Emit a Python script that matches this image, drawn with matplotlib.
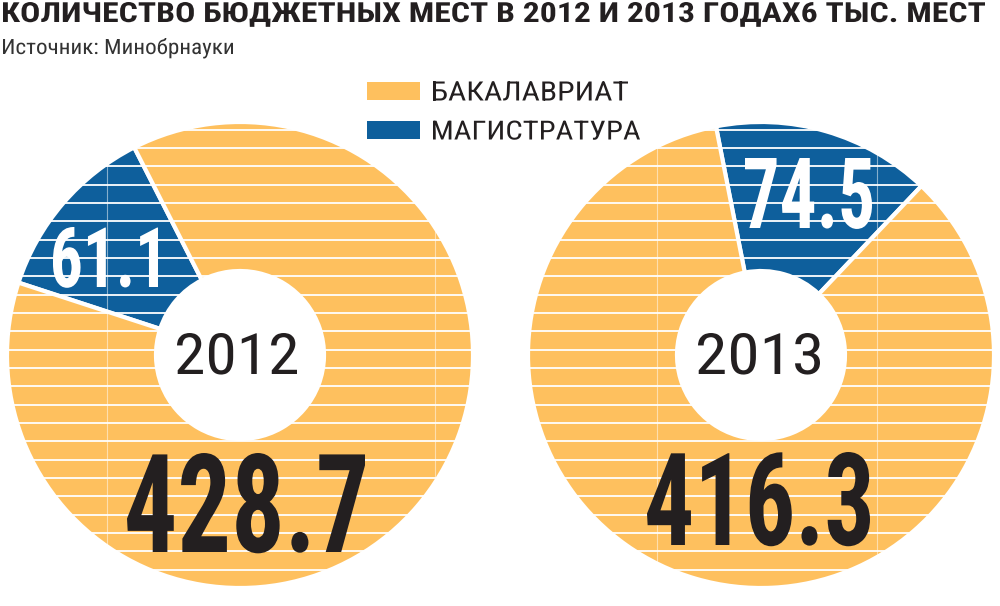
import numpy as np
import matplotlib
matplotlib.use('Agg')
import matplotlib.pyplot as plt
from matplotlib import font_manager
from matplotlib.font_manager import FontProperties
from matplotlib.patches import Circle, Rectangle
from matplotlib.patheffects import AbstractPathEffect
from matplotlib.textpath import TextPath
from matplotlib.transforms import Affine2D

# -------------------- Data --------------------

years = ['2012', '2013']
bachelor = [428.7, 416.3]      # БАКАЛАВРИАТ, тыс. мест
master = [61.1, 74.5]          # МАГИСТРАТУРА, тыс. мест
categories = ['БАКАЛАВРИАТ', 'МАГИСТРАТУРА']

title = 'КОЛИЧЕСТВО БЮДЖЕТНЫХ МЕСТ В 2012 И 2013 ГОДАХ6 ТЫС. МЕСТ'
source = 'Источник: Минобрнауки'

# -------------------- Style --------------------

YELLOW = '#FEC05E'
BLUE = '#0E5F9C'
DARK = '#231F20'

# look for a narrow face, the reference uses a condensed grotesque
FAMILY, STRETCH = 'DejaVu Sans', 'normal'
fonts = font_manager.fontManager.ttflist
by_name = {f.name for f in fonts}
for nm in ['Roboto Condensed', 'Liberation Sans Narrow', 'Open Sans Condensed',
           'Noto Sans Condensed', 'DejaVu Sans Condensed']:
    if nm in by_name:
        FAMILY = nm
        break
else:
    for nm in ['Roboto', 'Noto Sans', 'Open Sans', 'DejaVu Sans']:
        st = [f.stretch for f in fonts if f.name == nm]
        if any(s in ('condensed', 'semi-condensed', 'extra-condensed') or
               (isinstance(s, int) and s < 500) for s in st):
            FAMILY, STRETCH = nm, 'condensed'
            break
FAM = [FAMILY, 'DejaVu Sans']

W, H = 1000, 606
centers_x = [240, 761]      # pixel positions of pie centres
center_y = 355
R_OUT = 233
R_IN = 84
start_angles = [117, 46.5]


def Y(y_px):
    """Convert a pixel row (from top) to data y (from bottom)"""
    return H - y_px


class Condense(AbstractPathEffect):
    """Squeeze (or widen) glyphs horizontally around the text origin"""

    def __init__(self, sx):
        super().__init__()
        self.sx = sx

    def draw_path(self, renderer, gc, tpath, affine, rgbFace=None):
        renderer.draw_path(gc, tpath, Affine2D().scale(self.sx, 1) + affine, rgbFace)


fig = plt.figure(figsize=(W / 100, H / 100), dpi=100)
ax = fig.add_axes([0, 0, 1, 1])


def put(x0, x1, base, cap, s, weight='normal', **kw):
    """Text whose ink spans x0..x1 (px) with a given cap height, sitting on base"""
    prop = FontProperties(family=FAM, stretch=STRETCH, weight=weight)
    ext = TextPath((0, 0), s, size=100, prop=prop).get_extents()
    fs = cap * 0.72 * 100 / ext.ymax
    k = fs / 100 * 100 / 72             # font units (size 100) -> px
    sx = (x1 - x0) / ((ext.xmax - ext.xmin) * k)
    xl = x0 - ext.xmin * k * sx
    return ax.text(xl, Y(base), s, family=FAM, fontstretch=STRETCH, fontweight=weight,
                   fontsize=fs, ha='left', va='baseline',
                   path_effects=[Condense(sx)], **kw)


# -------------------- Pies --------------------

for i in range(2):
    cx, cy = centers_x[i], Y(center_y)
    ax.pie([master[i], bachelor[i]], colors=[BLUE, YELLOW],
           startangle=start_angles[i], counterclock=True,
           center=(cx, cy), radius=R_OUT, frame=True,
           wedgeprops=dict(width=R_OUT - R_IN, edgecolor='white', linewidth=3))

    clip = Circle((cx, cy), R_OUT, transform=ax.transData)
    stripes_y = Y(np.arange(386.3 - 18.33 * 15, 600, 18.33))
    hl = ax.hlines(stripes_y, cx - R_OUT, cx + R_OUT, colors='white', linewidth=1.3, zorder=3)
    hl.set_clip_path(clip)
    vl = ax.vlines([cx - 133, cx + 195] if i == 0 else [cx - 104, cx + 116],
                   cy - R_OUT, cy + R_OUT, colors='white', linewidth=0.8, alpha=0.5, zorder=3)
    vl.set_clip_path(clip)

ax.set_xlim(0, W)
ax.set_ylim(0, H)
ax.set_aspect('equal')
ax.set_axis_off()

# -------------------- Labels --------------------

# small values on the blue wedges
put(53, 158, 287, 60, f'{master[0]:.1f}', weight='bold', color='white', zorder=5)
put(745, 872, 228, 70, f'{master[1]:.1f}', weight='bold', color='white', zorder=5)

# years in the holes
put(177, 297, 374, 41, years[0], color=DARK, zorder=5)
put(698, 820, 374, 41, years[1], color=DARK, zorder=5)

# big values
put(127, 365, 552, 99, f'{bachelor[0]:.1f}', weight='bold', color=DARK, zorder=5)
put(647, 870, 545, 93, f'{bachelor[1]:.1f}', weight='bold', color=DARK, zorder=5)

# -------------------- Legend --------------------

legend_x1 = [628, 640]
for j, (lab, col) in enumerate(zip(categories, [YELLOW, BLUE])):
    top = 82 + 39 * j
    ax.add_patch(Rectangle((367, Y(top + 18)), 53, 18, facecolor=col, edgecolor='none'))
    put(433, legend_x1[j], top + 18.5, 19, lab, color=DARK)

# -------------------- Title --------------------

put(3, 985, 22, 20, title, weight='bold', color=DARK)
put(3, 233, 54, 16, source, color='#333333')

fig.savefig('out.png', dpi=100)
